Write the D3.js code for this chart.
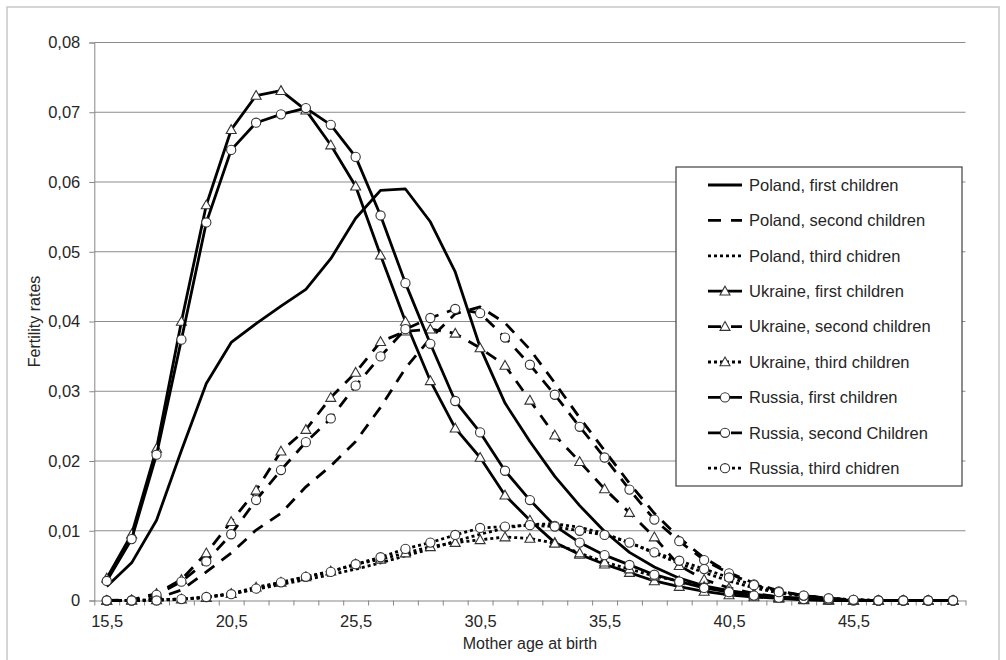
<!DOCTYPE html>
<html>
<head>
<meta charset="utf-8">
<script src="https://cdn.jsdelivr.net/npm/d3@7/dist/d3.min.js"></script>
<style>
body{margin:0;background:#fff;}
text{font-family:"Liberation Sans",Arial,sans-serif;fill:#262626;}
</style>
</head>
<body>
<div id="chart"></div>
<script>
/* Ages (category axis) and tick values */
var ages = [15.5,16.5,17.5,18.5,19.5,20.5,21.5,22.5,23.5,24.5,25.5,26.5,27.5,28.5,29.5,30.5,31.5,32.5,33.5,34.5,35.5,36.5,37.5,38.5,39.5,40.5,41.5,42.5,43.5,44.5,45.5,46.5,47.5,48.5,49.5];
var xLabelTicks = [15.5,20.5,25.5,30.5,35.5,40.5,45.5];
var yTicks = [0,0.01,0.02,0.03,0.04,0.05,0.06,0.07,0.08];

var seriesNames = ["Poland, first children","Poland, second children","Poland, third chidren",
                   "Ukraine, first children","Ukraine, second children","Ukraine, third children",
                   "Russia, first children","Russia, second Children","Russia, third chidren"];

/* Fertility rates */
var polandFirst  = [0.002,0.0054,0.0115,0.0215,0.0311,0.037,0.0397,0.0422,0.0446,0.049,0.0548,0.0588,0.059,0.0543,0.0471,0.0363,0.0283,0.0228,0.0178,0.0136,0.0099,0.0069,0.0048,0.0032,0.0021,0.0014,0.0009,0.0005,0.0003,0.0001,0,0,0,0,0];
var polandSecond = [0,0,0.0003,0.0015,0.0041,0.0068,0.0101,0.0125,0.0163,0.0193,0.0228,0.0277,0.0333,0.0376,0.0411,0.0421,0.0398,0.036,0.0312,0.0262,0.0215,0.0168,0.0125,0.009,0.0061,0.004,0.0025,0.0014,0.0007,0.0003,0.0001,0,0,0,0];
var polandThird  = [0,0,0.0001,0.0002,0.0005,0.001,0.0016,0.0023,0.003,0.0037,0.0045,0.0054,0.0064,0.0074,0.0085,0.0095,0.0104,0.0109,0.011,0.0105,0.0096,0.0083,0.0068,0.0053,0.004,0.0028,0.0018,0.0011,0.0006,0.0003,0.0001,0,0,0,0];
var ukraineFirst  = [0.0032,0.0095,0.0218,0.040,0.0567,0.0675,0.0724,0.0731,0.0703,0.0653,0.0594,0.0495,0.040,0.0315,0.0247,0.0205,0.0151,0.0115,0.0083,0.0066,0.0052,0.004,0.0028,0.002,0.0013,0.0008,0.0005,0.0003,0.0001,0,0,0,0,0,0];
var ukraineSecond = [0,0.0001,0.001,0.003,0.0068,0.0113,0.0158,0.0214,0.0245,0.0291,0.0327,0.0371,0.0386,0.0389,0.0383,0.0362,0.0337,0.0287,0.0237,0.0199,0.016,0.0126,0.0091,0.005,0.003,0.0018,0.001,0.0005,0.0002,0.0001,0,0,0,0,0];
var ukraineThird  = [0,0,0.0001,0.0002,0.0004,0.001,0.0019,0.0026,0.0034,0.0042,0.0052,0.0059,0.0068,0.0077,0.0083,0.0087,0.0091,0.0089,0.0082,0.0068,0.0055,0.0045,0.0035,0.0028,0.002,0.0013,0.0008,0.0004,0.0002,0.0001,0,0,0,0,0];
var russiaFirst  = [0.0028,0.0088,0.0209,0.0374,0.0542,0.0646,0.0685,0.0697,0.0706,0.0682,0.0636,0.0552,0.0455,0.0368,0.0286,0.0241,0.0186,0.0144,0.0107,0.0083,0.0065,0.0051,0.0037,0.0027,0.0018,0.0012,0.0007,0.0004,0.0002,0.0001,0,0,0,0,0];
var russiaSecond = [0,0,0.0008,0.0027,0.0056,0.0095,0.0144,0.0187,0.0227,0.0261,0.0308,0.035,0.0389,0.0405,0.0418,0.0412,0.0377,0.0338,0.0295,0.0249,0.0205,0.0159,0.0116,0.0085,0.0058,0.0039,0.0023,0.0013,0.0007,0.0003,0.0001,0,0,0,0];
var russiaThird  = [0,0,0,0.0002,0.0005,0.0009,0.0017,0.0026,0.0034,0.0041,0.0052,0.0062,0.0074,0.0083,0.0094,0.0104,0.0106,0.0108,0.0106,0.01,0.0094,0.0083,0.0069,0.0057,0.0045,0.0033,0.0022,0.0012,0.0007,0.0003,0.0001,0,0,0,0];

var seriesValues = [polandFirst,polandSecond,polandThird,ukraineFirst,ukraineSecond,ukraineThird,russiaFirst,russiaSecond,russiaThird];

/* Line style per series: dash pattern and marker */
var dashes  = [null,"12,9","3,3", null,"12,9","3,3", null,"12,9","3,3"];
var markers = ["none","none","none","triangle","triangle","triangle","circle","circle","circle"];

var W = 1006, H = 660;
var plotLeft = 94.3, plotRight = 965.5, plotTop = 42.5, plotBottom = 600.5;

var svg = d3.select("#chart").append("svg")
    .attr("width", W).attr("height", H);

svg.append("rect").attr("width", W).attr("height", H).attr("fill", "#fff");
/* light outer frame */
svg.append("rect").attr("x", 7).attr("y", 7).attr("width", 992).attr("height", 660)
    .attr("fill", "none").attr("stroke", "#c8c8c8").attr("stroke-width", 1.5);

/* category boundaries at whole years, points in the middle */
var x = d3.scaleLinear().domain([15, 50]).range([plotLeft, plotRight]);
var y = d3.scaleLinear().domain([0, 0.08]).range([plotBottom, plotTop]);

var locale = d3.formatLocale({decimal: ",", thousands: " ", grouping: [3], currency: ["", ""]});
var f2 = locale.format(".2f"), f1 = locale.format(".1f");

/* horizontal gridlines */
svg.append("g").selectAll("line")
    .data(yTicks.filter(function(d){ return d > 0; }))
    .enter().append("line")
    .attr("x1", plotLeft).attr("x2", plotRight)
    .attr("y1", function(d){ return y(d); }).attr("y2", function(d){ return y(d); })
    .attr("stroke", "#8c8c8c").attr("stroke-width", 1);

/* y axis */
var yAxis = svg.append("g").attr("transform", "translate(" + plotLeft + ",0)")
    .call(d3.axisLeft(y).tickValues(yTicks).tickSize(5).tickPadding(9)
        .tickFormat(function(d){ return d === 0 ? "0" : f2(d); }));
yAxis.selectAll("line,path").attr("stroke", "#868686");
yAxis.selectAll("text").attr("font-size", 16.5).style("font-family", "Liberation Sans, Arial, sans-serif").attr("fill", "#262626");

/* x axis: tick marks between categories */
var xAxis = svg.append("g").attr("transform", "translate(0," + plotBottom + ")")
    .call(d3.axisBottom(x).tickValues(d3.range(15, 51)).tickSize(5).tickSizeOuter(0).tickFormat(""));
xAxis.selectAll("line,path").attr("stroke", "#868686");

/* x labels in the middle of the categories */
var xLab = svg.append("g").attr("transform", "translate(0," + plotBottom + ")")
    .call(d3.axisBottom(x).tickValues(xLabelTicks).tickSize(0).tickPadding(15).tickFormat(f1));
xLab.select("path").remove();
xLab.selectAll("text").attr("font-size", 16.5).style("font-family", "Liberation Sans, Arial, sans-serif").attr("fill", "#262626");

/* axis titles */
svg.append("text").attr("x", (plotLeft + plotRight) / 2).attr("y", 649)
    .attr("text-anchor", "middle").attr("font-size", 16).text("Mother age at birth");
svg.append("text").attr("transform", "translate(40," + ((plotTop + plotBottom) / 2) + ") rotate(-90)")
    .attr("text-anchor", "middle").attr("font-size", 16).text("Fertility rates");

/* marker drawing */
var triPath = "M0,-5L5,3.8L-5,3.8Z";
function drawMarker(g, type, cx, cy){
    if(type == "circle"){
        g.append("circle").attr("cx", cx).attr("cy", cy).attr("r", 4.6)
            .attr("fill", "#fff").attr("stroke", "#333").attr("stroke-width", 1.1);
    } else if(type == "triangle"){
        g.append("path").attr("d", triPath).attr("transform", "translate(" + cx + "," + cy + ")")
            .attr("fill", "#fff").attr("stroke", "#333").attr("stroke-width", 1.1);
    }
}

var line = d3.line()
    .x(function(d, i){ return x(ages[i]); })
    .y(function(d){ return y(d); });

/* series */
for(var s = 0; s < seriesValues.length; s++){
    var g = svg.append("g");
    g.append("path").attr("d", line(seriesValues[s]))
        .attr("fill", "none").attr("stroke", "#000").attr("stroke-width", 2.8)
        .attr("stroke-linejoin", "round")
        .attr("stroke-dasharray", dashes[s]);
    if(markers[s] != "none"){
        for(var i = 0; i < ages.length; i++){
            drawMarker(g, markers[s], x(ages[i]), y(seriesValues[s][i]));
        }
    }
}

/* legend */
var lg = svg.append("g");
lg.append("rect").attr("x", 676).attr("y", 167).attr("width", 286).attr("height", 319)
    .attr("fill", "#fff").attr("stroke", "#404040").attr("stroke-width", 1.2);
for(var k = 0; k < seriesNames.length; k++){
    var ly = 185 + k * 35.4;
    lg.append("line").attr("x1", 708).attr("x2", 742).attr("y1", ly).attr("y2", ly)
        .attr("stroke", "#000").attr("stroke-width", 2.8)
        .attr("stroke-dasharray", dashes[k] == "12,9" ? "13,10" : dashes[k]);
    drawMarker(lg, markers[k], 725, ly);
    lg.append("text").attr("x", 749).attr("y", ly).attr("dy", "0.35em")
        .attr("font-size", 16.5).text(seriesNames[k]);
}
</script>
</body>
</html>
